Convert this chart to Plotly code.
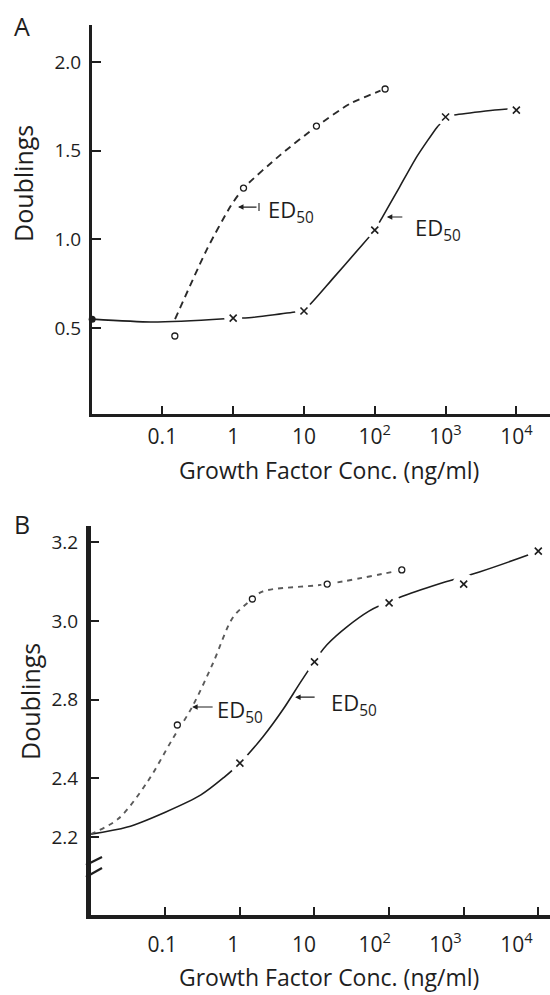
import numpy as np
import plotly.graph_objects as go

W, H = 550, 995
FONT = "Open Sans"
INK = "#1e1e1e"

# ---------------- Panel A data ----------------
a_circle_x = [0.15, 1.4, 15, 140]
a_circle_y = [0.455, 1.289, 1.639, 1.848]
a_cross_x = [1, 10, 100, 1000, 10000]
a_cross_y = [0.556, 0.596, 1.052, 1.69, 1.729]

a_dash_x = [0.151, 0.427, 0.912, 1.41, 4.6, 14.8, 44.7, 138]
a_dash_y = [0.55, 0.945, 1.185, 1.29, 1.475, 1.635, 1.765, 1.848]

a_solid_x = [0.0102, 0.069, 0.76, 1, 1.66, 8.3, 10, 25.7, 57.5, 100, 126, 224, 389, 759, 891, 1000, 1259, 7586, 10000]
a_solid_y = [0.55, 0.534, 0.552, 0.556, 0.558, 0.593, 0.60, 0.78, 0.94, 1.052, 1.12, 1.295, 1.464, 1.633, 1.662, 1.69, 1.70, 1.735, 1.729]

a_ed50_x = [1.17, 148]
a_ed50_y = [1.182, 1.126]

a_yticks = [0.5, 1.0, 1.5, 2.0]
a_yticktext = ["0.5", "1.0", "1.5", "2.0"]

# ---------------- Panel B data ----------------
b_circle_x = [0.145, 1.47, 14.8, 148]
b_circle_y = [2.735, 3.056, 3.094, 3.13]
b_cross_x = [1, 10, 100, 1000, 10000]
b_cross_y = [2.638, 2.896, 3.046, 3.094, 3.178]

b_dash_x = [0.01, 0.0234, 0.0575, 0.123, 0.229, 0.437, 0.813, 1.47, 2.0, 14.8, 148]
b_dash_y = [2.457, 2.496, 2.59, 2.697, 2.781, 2.893, 3.01, 3.056, 3.075, 3.094, 3.13]

b_solid_x = [0.01, 0.031, 0.1, 0.3, 0.624, 1, 2.04, 3.8, 7.1, 14.8, 53.7, 158, 575, 1622, 7762, 10000]
b_solid_y = [2.457, 2.475, 2.513, 2.557, 2.603, 2.638, 2.705, 2.775, 2.855, 2.94, 3.025, 3.064, 3.10, 3.125, 3.17, 3.178]

b_ed50_x = [0.229, 5.5]
b_ed50_y = [2.781, 2.806]

# axis positions (internal units) and their printed labels
b_yticks = [2.45, 2.6, 2.8, 3.0, 3.2]
b_yticktext = ["2.2", "2.4", "2.8", "3.0", "3.2"]

x_tickvals = [0.1, 1, 10, 100, 1000, 10000]
x_ticktext = ["0.1", "1", "10", "10<sup>2</sup>", "10<sup>3</sup>", "10<sup>4</sup>"]

x_title = "Growth Factor Conc. (ng/ml)"
y_title = "Doublings"


def px_x(p):
    return p / W


def px_y(p):
    return 1 - p / H


fig = go.Figure()


def add_panel(xa, ya, solid_x, solid_y, dash_x, dash_y, cx, cy, ox, oy,
              dash_color, dash_pattern, gap_x, gap_o, smooth):
    fig.add_trace(go.Scatter(x=solid_x, y=solid_y, mode="lines", xaxis=xa, yaxis=ya,
                             line=dict(color=INK, width=1.6, shape="spline", smoothing=smooth),
                             showlegend=False, hoverinfo="skip", cliponaxis=False))
    fig.add_trace(go.Scatter(x=dash_x, y=dash_y, mode="lines", xaxis=xa, yaxis=ya,
                             line=dict(color=dash_color, width=1.9, dash=dash_pattern,
                                       shape="spline", smoothing=smooth),
                             showlegend=False, hoverinfo="skip", cliponaxis=False))
    fig.add_trace(go.Scatter(x=cx, y=cy, mode="markers", xaxis=xa, yaxis=ya,
                             marker=dict(symbol="circle", size=gap_x, color="white"),
                             showlegend=False, hoverinfo="skip", cliponaxis=False))
    fig.add_trace(go.Scatter(x=ox, y=oy, mode="markers", xaxis=xa, yaxis=ya,
                             marker=dict(symbol="circle", size=gap_o, color="white"),
                             showlegend=False, hoverinfo="skip", cliponaxis=False))
    fig.add_trace(go.Scatter(x=cx, y=cy, mode="markers", xaxis=xa, yaxis=ya,
                             marker=dict(symbol="x-thin", size=7,
                                         line=dict(color=INK, width=1.6)),
                             showlegend=False, hoverinfo="skip", cliponaxis=False))
    fig.add_trace(go.Scatter(x=ox, y=oy, mode="markers", xaxis=xa, yaxis=ya,
                             marker=dict(symbol="circle-open", size=6, color=INK,
                                         line=dict(color=INK, width=1.3)),
                             showlegend=False, hoverinfo="skip", cliponaxis=False))


add_panel("x", "y", a_solid_x, a_solid_y, a_dash_x, a_dash_y,
          a_cross_x, a_cross_y, a_circle_x, a_circle_y, "#2a2a2a", "7px,5px", 18, 10, 0.6)
fig.add_trace(go.Scatter(x=a_solid_x[:1], y=a_solid_y[:1], mode="markers", xaxis="x", yaxis="y",
                         marker=dict(symbol="circle", size=7, color=INK),
                         showlegend=False, hoverinfo="skip", cliponaxis=False))

add_panel("x2", "y2", b_solid_x, b_solid_y, b_dash_x, b_dash_y,
          b_cross_x, b_cross_y, b_circle_x, b_circle_y, "#5a5a5a", "5px,5px", 22, 12, 0.9)

# empty trace that registers the label-only axis of panel B
fig.add_trace(go.Scatter(x=[], y=[], xaxis="x3", yaxis="y2", mode="markers",
                         showlegend=False, hoverinfo="skip"))

common_x = dict(type="log", showline=True, linecolor=INK, ticks="inside", ticklen=8,
                tickwidth=1.5, tickcolor=INK, tickvals=x_tickvals, ticktext=x_ticktext,
                tickfont=dict(family=FONT, size=21, color=INK), showgrid=False,
                zeroline=False, automargin=False, ticklabeloverflow="allow")
common_y = dict(showline=True, linecolor=INK, ticks="inside", ticklen=9, tickwidth=1.5,
                tickcolor=INK, tickfont=dict(family=FONT, size=19, color=INK),
                showgrid=False, zeroline=False, automargin=False)

fig.update_layout(
    width=W, height=H, paper_bgcolor="white", plot_bgcolor="white",
    margin=dict(l=0, r=0, t=0, b=0), showlegend=False,
    xaxis=dict(common_x, range=[-1.994, 4.475], domain=[px_x(92), 1], anchor="y",
               linewidth=3, ticklabelstandoff=2),
    yaxis=dict(common_y, range=[0.015, 2.209], domain=[px_y(414), px_y(25)], anchor="x",
               linewidth=3, tickvals=a_yticks, ticktext=a_yticktext, ticklabelstandoff=4),
    # panel B: ticks on the data scale, labels printed on the panel-A spacing (as in the figure)
    xaxis2=dict(common_x, range=[-2.0, 4.157], domain=[px_x(90.7), 1], anchor="y2",
                linewidth=3.5, showticklabels=False),
    xaxis3=dict(common_x, range=[-2.012, 4.475], overlaying="x2", anchor="y2",
                showline=False, ticks="", ticklabelstandoff=15),
    yaxis2=dict(common_y, range=[2.251, 3.242], domain=[px_y(915), px_y(526)], anchor="x2",
                linewidth=4.5, tickvals=b_yticks, ticktext=b_yticktext, ticklabelstandoff=4),
)

ann = []
ann.append(dict(text="A", x=px_x(12), y=px_y(26), xref="paper", yref="paper",
                xanchor="left", yanchor="middle", showarrow=False,
                font=dict(family=FONT, size=25, color=INK)))
ann.append(dict(text="B", x=px_x(12), y=px_y(524), xref="paper", yref="paper",
                xanchor="left", yanchor="middle", showarrow=False,
                font=dict(family=FONT, size=25, color=INK)))
for cx_, cy_ in [(329, 470), (329, 977)]:
    ann.append(dict(text=x_title, x=px_x(cx_), y=px_y(cy_), xref="paper", yref="paper",
                    xanchor="center", yanchor="middle", showarrow=False,
                    font=dict(family=FONT, size=23, color=INK)))
for cx_, cy_ in [(23, 184), (30, 702)]:
    ann.append(dict(text=y_title, x=px_x(cx_), y=px_y(cy_), xref="paper", yref="paper",
                    xanchor="center", yanchor="middle", showarrow=False, textangle=-90,
                    font=dict(family=FONT, size=25, color=INK)))

ed_specs = [("x", "y", a_ed50_x[0], a_ed50_y[0], 20, 28, 0),
            ("x", "y", a_ed50_x[1], a_ed50_y[1], 17, 26, -8),
            ("x2", "y2", b_ed50_x[0], b_ed50_y[0], 22, 23, 0),
            ("x2", "y2", b_ed50_x[1], b_ed50_y[1], 21, 34, -3)]
for xa, ya, ex, ey, alen, tshift, yshift in ed_specs:
    ann.append(dict(text="", x=np.log10(ex), y=ey, xref=xa, yref=ya, showarrow=True,
                    ax=alen, ay=0, axref="pixel", ayref="pixel", arrowhead=2, arrowsize=1,
                    arrowwidth=1.1, arrowcolor=INK, standoff=0, startstandoff=0))
    ann.append(dict(text="ED<sub>50</sub>", x=np.log10(ex), y=ey, xref=xa, yref=ya,
                    showarrow=False, xanchor="left", yanchor="middle",
                    xshift=tshift, yshift=yshift - 4,
                    font=dict(family=FONT, size=22, color=INK)))

fig.update_layout(annotations=ann)

shapes = []
# small stop bar at the tail of the first ED50 arrow in panel A
shapes.append(dict(type="line", xref="x", yref="y",
                   xsizemode="pixel", xanchor=a_ed50_x[0], x0=21, x1=21,
                   ysizemode="pixel", yanchor=a_ed50_y[0], y0=-4, y1=4,
                   line=dict(color=INK, width=1.1)))
for y0, y1 in [(865, 857), (877, 868)]:
    shapes.append(dict(type="line", xref="paper", yref="paper",
                       x0=px_x(86), x1=px_x(102), y0=px_y(y0), y1=px_y(y1),
                       line=dict(color=INK, width=2.2)))
fig.update_layout(shapes=shapes)

fig.write_html("out.html", config={"displayModeBar": False},
               post_script="document.body.style.margin='0';document.body.style.overflow='hidden';")
